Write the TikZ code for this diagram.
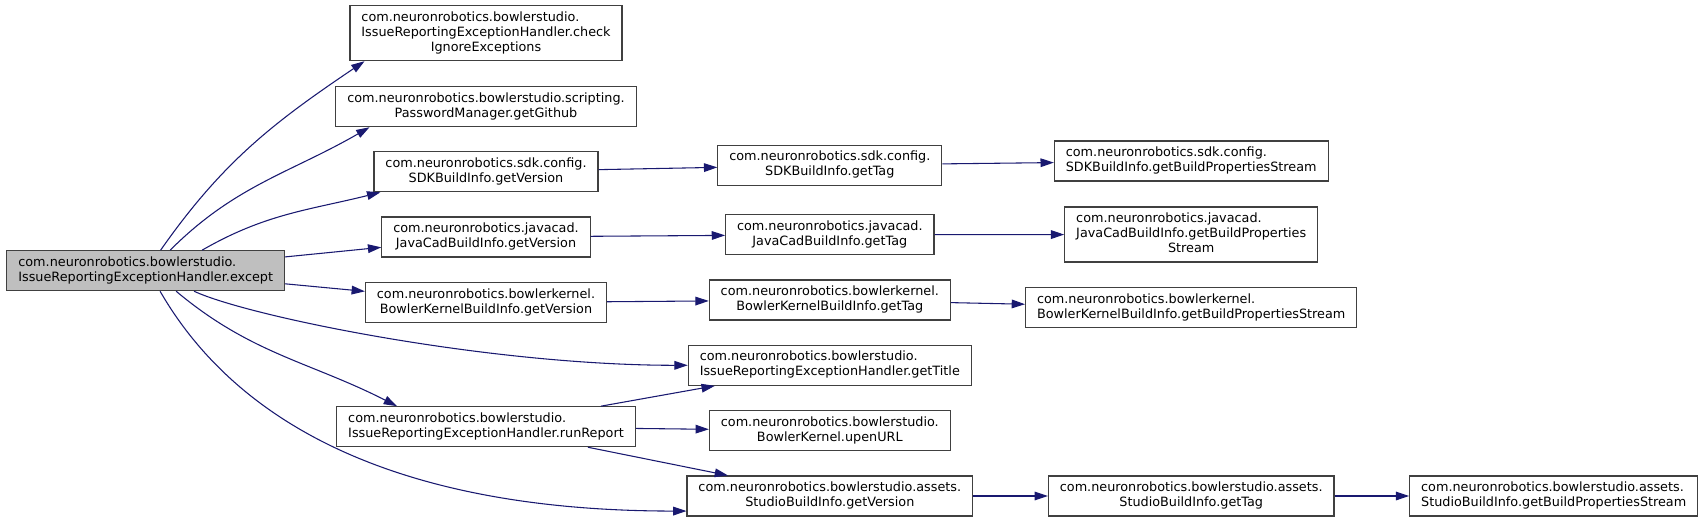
\documentclass[tikz,border=0pt]{standalone}
\usepackage{fontspec}
\setmainfont{DejaVu Sans}
\usetikzlibrary{arrows.meta}
\definecolor{edgeblue}{RGB}{25,25,112}
\definecolor{rootgray}{RGB}{191,191,191}
\definecolor{boxgray}{RGB}{64,64,64}
% label: left-set lines, last line centred
\newcommand{\fnlabel}[2]{\begin{tabular}{@{}l@{}}#1\\\multicolumn{1}{@{}c@{}}{#2}\end{tabular}}

\begin{document}
\begin{tikzpicture}[x=0.75pt, y=0.75pt,
    fnbox/.style={draw=boxgray, fill=white, line width=0.8pt, inner xsep=8.6pt, inner ysep=3.75pt,
        font=\fontsize{9.6}{11.25}\selectfont},
    rootbox/.style={fnbox, fill=rootgray},
    call/.style={-{Triangle[length=10pt, width=6.5pt]}, edgeblue, line width=0.8pt}]
    \useasboundingbox (0,0) rectangle (1705,522);

    % caller
    \node[rootbox] (except) at (145.7,251.3) {\fnlabel{com.neuronrobotics.bowlerstudio.}{IssueReportingExceptionHandler.except}};

    % first level
    \node[fnbox] (checkIgnore) at (486,488.8) {\fnlabel{com.neuronrobotics.bowlerstudio.\\IssueReportingExceptionHandler.check}{IgnoreExceptions}};
    \node[fnbox] (getGithub) at (486,415.3) {\fnlabel{com.neuronrobotics.bowlerstudio.scripting.}{PasswordManager.getGithub}};
    \node[fnbox] (sdkVer) at (486,350.2) {\fnlabel{com.neuronrobotics.sdk.config.}{SDKBuildInfo.getVersion}};
    \node[fnbox] (jcVer) at (486,285) {\fnlabel{com.neuronrobotics.javacad.}{JavaCadBuildInfo.getVersion}};
    \node[fnbox] (bkVer) at (486,219.3) {\fnlabel{com.neuronrobotics.bowlerkernel.}{BowlerKernelBuildInfo.getVersion}};
    \node[fnbox] (runReport) at (486,95.3) {\fnlabel{com.neuronrobotics.bowlerstudio.}{IssueReportingExceptionHandler.runReport}};

    % second level
    \node[fnbox] (sdkTag) at (829.8,356.8) {\fnlabel{com.neuronrobotics.sdk.config.}{SDKBuildInfo.getTag}};
    \node[fnbox] (jcTag) at (829.8,287.3) {\fnlabel{com.neuronrobotics.javacad.}{JavaCadBuildInfo.getTag}};
    \node[fnbox] (bkTag) at (829.8,222) {\fnlabel{com.neuronrobotics.bowlerkernel.}{BowlerKernelBuildInfo.getTag}};
    \node[fnbox] (getTitle) at (829.8,156.7) {\fnlabel{com.neuronrobotics.bowlerstudio.}{IssueReportingExceptionHandler.getTitle}};
    \node[fnbox] (upenURL) at (829.8,91.3) {\fnlabel{com.neuronrobotics.bowlerstudio.}{BowlerKernel.upenURL}};
    \node[fnbox] (stVer) at (829.8,26) {\fnlabel{com.neuronrobotics.bowlerstudio.assets.}{StudioBuildInfo.getVersion}};

    % third and fourth level
    \node[fnbox] (sdkProps) at (1191.2,361) {\fnlabel{com.neuronrobotics.sdk.config.}{SDKBuildInfo.getBuildPropertiesStream}};
    \node[fnbox] (jcProps) at (1191.2,287.5) {\fnlabel{com.neuronrobotics.javacad.\\JavaCadBuildInfo.getBuildProperties}{Stream}};
    \node[fnbox] (bkProps) at (1191.2,214.2) {\fnlabel{com.neuronrobotics.bowlerkernel.}{BowlerKernelBuildInfo.getBuildPropertiesStream}};
    \node[fnbox] (stTag) at (1191.2,26) {\fnlabel{com.neuronrobotics.bowlerstudio.assets.}{StudioBuildInfo.getTag}};
    \node[fnbox] (stProps) at (1553.7,26) {\fnlabel{com.neuronrobotics.bowlerstudio.assets.}{StudioBuildInfo.getBuildPropertiesStream}};

    % calls out of except
    \draw[call] (except.54) to[out=55, in=214] (checkIgnore.193);
    \draw[call] (except.40) to[out=45, in=210] (getGithub.190);
    \draw[call] (except.20) to[out=30, in=194] (sdkVer.191);
    \draw[call] (except) -- (jcVer);
    \draw[call] (except) -- (bkVer);
    \draw[call] (except.337) to[out=-25, in=180, out distance=45pt, in distance=150pt] (getTitle.west);
    \draw[call] (except.326) to[out=-40, in=153] (runReport.167);
    \draw[call] (except.305) to[out=-60, in=180, out distance=120pt, in distance=210pt] (stVer.186);

    % chains
    \draw[call] (sdkVer) -- (sdkTag);
    \draw[call] (sdkTag) -- (sdkProps);
    \draw[call] (jcVer) -- (jcTag);
    \draw[call] (jcTag) -- (jcProps);
    \draw[call] (bkVer) -- (bkTag);
    \draw[call] (bkTag) -- (bkProps);
    \draw[call] (runReport) -- (getTitle);
    \draw[call] (runReport) -- (upenURL);
    \draw[call] (runReport) -- (stVer);
    \draw[call] (stVer) -- (stTag);
    \draw[call] (stTag) -- (stProps);
\end{tikzpicture}
\end{document}
